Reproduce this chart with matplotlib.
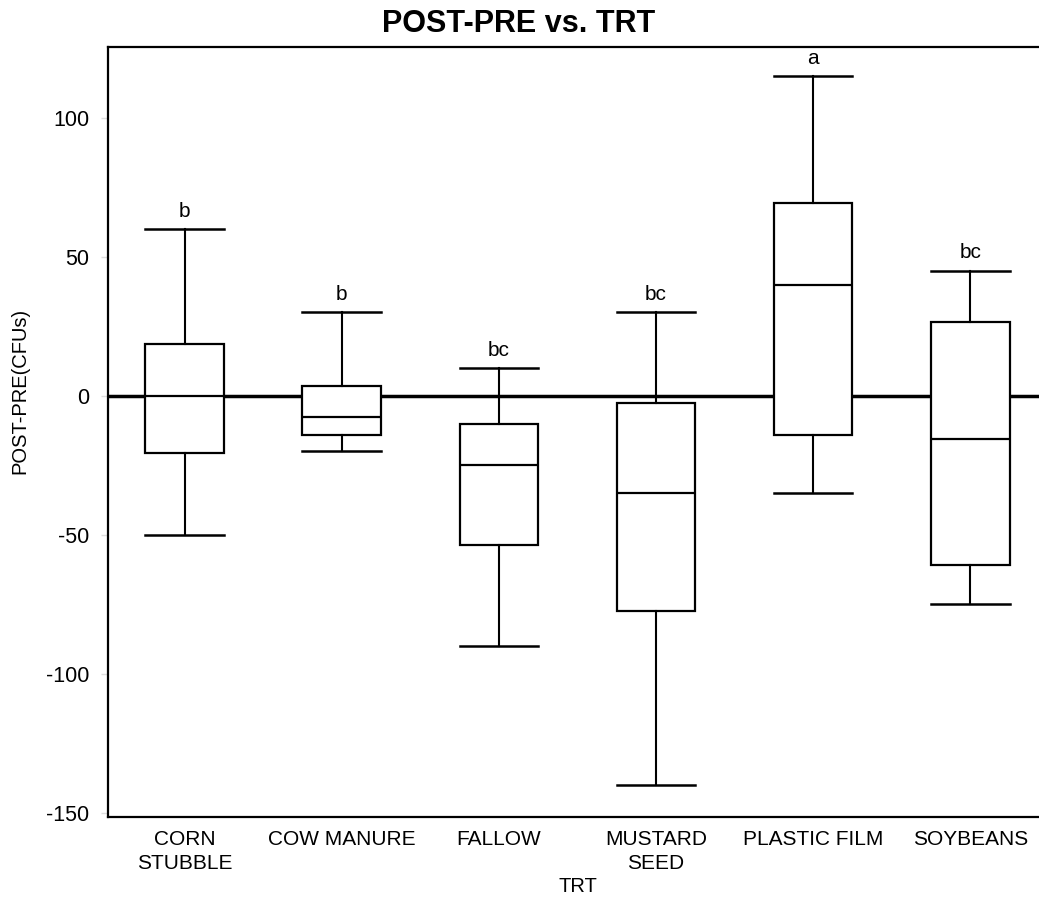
import matplotlib
matplotlib.use("Agg")
import matplotlib.pyplot as plt

# treatments and box stats
trt = ["CORN\nSTUBBLE", "COW MANURE", "FALLOW", "MUSTARD\nSEED", "PLASTIC FILM", "SOYBEANS"]
whislo = [-50, -20, -90, -140, -35, -75]
q1 = [-20.5, -14, -53.5, -77.5, -14, -61]
med = [0, -7.5, -25, -35, 40, -15.5]
q3 = [18.5, 3.5, -10, -2.5, 69.5, 26.5]
whishi = [60, 30, 10, 30, 115, 45]
letters = ["b", "b", "bc", "bc", "a", "bc"]

plt.rcParams['font.family'] = ['Liberation Sans', 'DejaVu Sans']
plt.rcParams['axes.unicode_minus'] = False

fig = plt.figure(figsize=(10.39, 8.99), dpi=100)
ax = fig.add_axes([0.1035, 0.091, 0.906, 0.857])

stats = []
for i in range(len(trt)):
    stats.append(dict(whislo=whislo[i], q1=q1[i], med=med[i], q3=q3[i],
                      whishi=whishi[i], fliers=[]))

ax.axhline(0, color='black', lw=2.5, zorder=1)
ax.bxp(stats, positions=range(len(trt)), widths=0.5, patch_artist=True,
       showfliers=False, capwidths=0.5,
       boxprops=dict(facecolor='white', edgecolor='black', lw=1.6),
       medianprops=dict(color='black', lw=1.6),
       whiskerprops=dict(color='black', lw=1.5),
       capprops=dict(color='black', lw=1.8),
       zorder=3)

for i, s in enumerate(letters):
    ax.annotate(s, (i, whishi[i]), xytext=(0, 6), textcoords='offset points',
                ha='center', va='bottom', fontsize=15)

ax.set_xlim(-0.49, 5.5)
ax.set_ylim(-151.5, 125.5)
ax.set_yticks([-150, -100, -50, 0, 50, 100])
ax.set_xticks(range(len(trt)))
ax.set_xticklabels(trt, fontsize=15, linespacing=1.35)
ax.tick_params(axis='x', length=0, pad=9)
ax.tick_params(axis='y', length=5, width=1, color='#dddddd', labelsize=15.5, pad=8)
for sp in ['left', 'bottom', 'top']:
    ax.spines[sp].set_linewidth(1.6)
ax.spines['right'].set_visible(False)

ax.set_ylabel("POST-PRE(CFUs)", fontsize=14.5)
ax.yaxis.set_label_coords(-0.083, 0.553)
ax.set_xlabel("TRT", fontsize=14.5, labelpad=3)
fig.text(0.4995, 0.973, "POST-PRE vs. TRT", ha='center', va='center',
         fontsize=22, fontweight='bold')

fig.savefig("out.png", dpi=100)
